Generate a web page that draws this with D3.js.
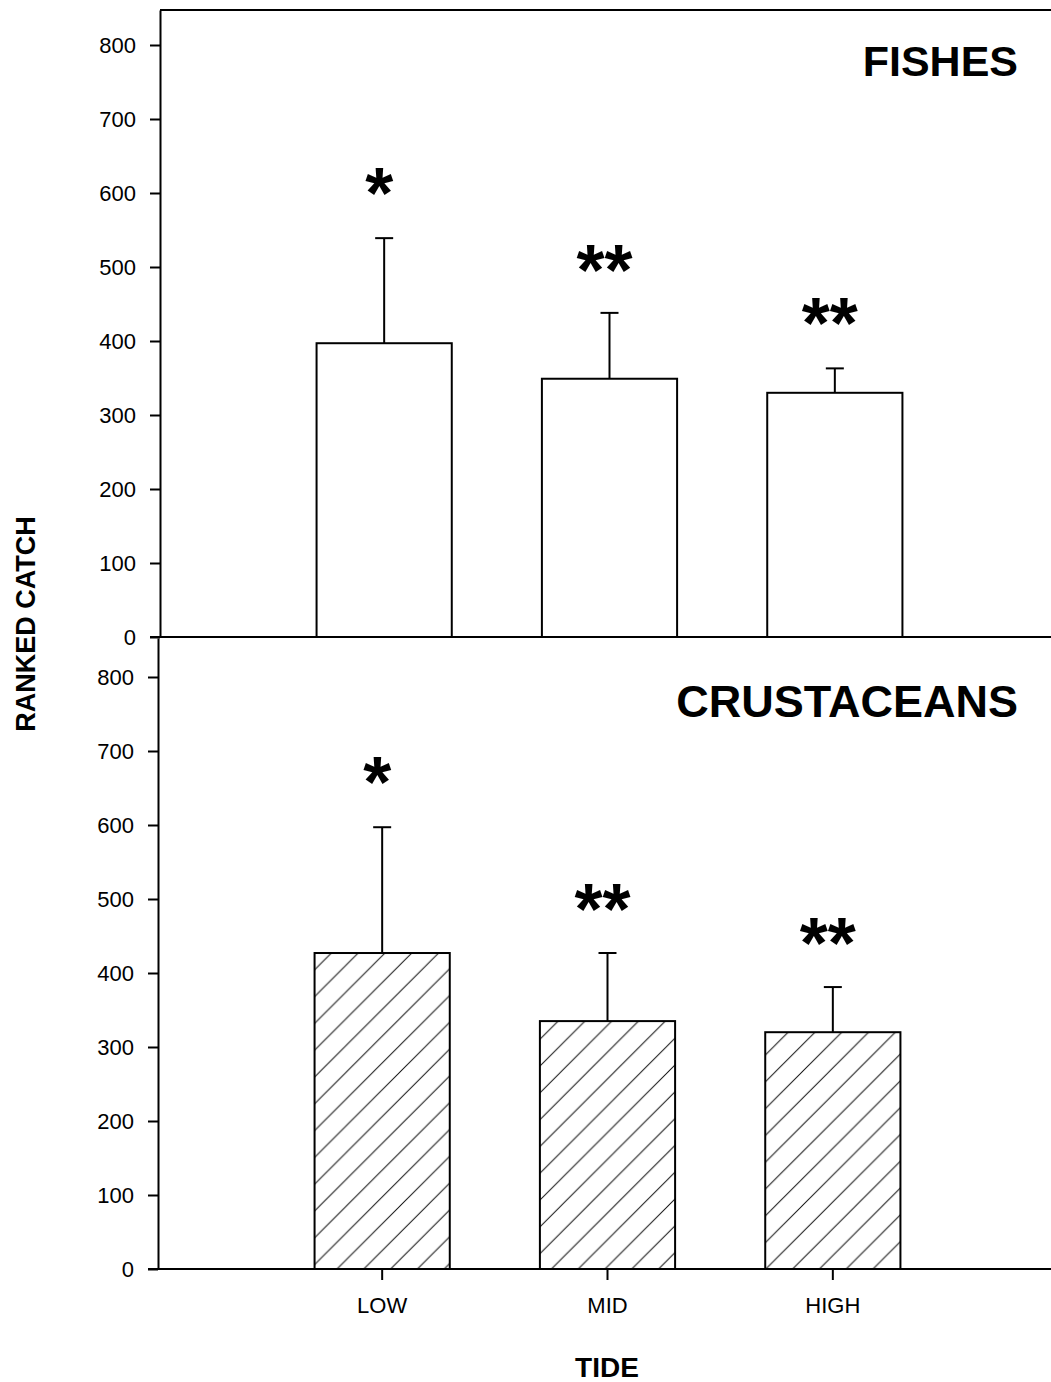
<!DOCTYPE html>
<html>
<head>
<meta charset="utf-8">
<script src="https://cdn.jsdelivr.net/npm/d3@7"></script>
<style>
  body { margin: 0; background: #fff; }
  svg { display: block; }
</style>
</head>
<body>
<svg id="chart" width="1051" height="1382"></svg>
<script>
// data
const tides = ['LOW', 'MID', 'HIGH']
const yTicks = [0, 100, 200, 300, 400, 500, 600, 700, 800]

const fishMean = [397, 349, 330]
const fishUpper = [539, 438, 363]
const fishSig = ['*', '**', '**']
const fishSigAt = [616, 512, 440]

const crustMean = [427, 335, 320]
const crustUpper = [597, 427, 381]
const crustSig = ['*', '**', '**']
const crustSigAt = [674, 503, 457]

const width = 1051
const height = 1382
const font = 'Liberation Sans, Arial, sans-serif'

const svg = d3.select('#chart')

svg.append('rect')
  .attr('width', width)
  .attr('height', height)
  .attr('fill', '#fff')

// hatch for crustaceans
svg.append('defs')
  .append('pattern')
  .attr('id', 'hatch')
  .attr('patternUnits', 'userSpaceOnUse')
  .attr('width', 26.8)
  .attr('height', 26.8)
  .call((p) => {
    p.append('rect').attr('width', 26.8).attr('height', 26.8).attr('fill', '#fff')
    p.append('path')
      .attr('d', 'M-2,28.8 L28.8,-2 M-6,6 L6,-6 M20.8,32.8 L32.8,20.8')
      .attr('stroke', '#111')
      .attr('stroke-width', 1)
  })

// x: band centres at ~384, 610, 835
const x = d3.scaleBand()
  .domain(tides)
  .range([271.5, 947.5])
  .paddingInner(0.4)
  .paddingOuter(0.2)

const panels = [
  { mean: fishMean, upper: fishUpper, sig: fishSig, sigAt: fishSigAt,
    title: 'FISHES', titleY: 76, top: 10, bottom: 637, max: 847.3, dx: 0, fill: '#fff', xTicks: false },
  { mean: crustMean, upper: crustUpper, sig: crustSig, sigAt: crustSigAt,
    title: 'CRUSTACEANS', titleY: 717, top: 638, bottom: 1269, max: 852.7, dx: -2, fill: 'url(#hatch)', xTicks: true },
]

panels.forEach((p) => {
  const left = 160
  const y = d3.scaleLinear().domain([0, p.max]).range([p.bottom, p.top])

  const g = svg.append('g').attr('transform', `translate(${p.dx},0)`)

  // bars
  g.append('g')
    .selectAll('rect')
    .data(tides)
    .join('rect')
    .attr('x', (d) => x(d))
    .attr('y', (d, i) => y(p.mean[i]))
    .attr('width', x.bandwidth())
    .attr('height', (d, i) => y(0) - y(p.mean[i]))
    .attr('fill', p.fill)
    .attr('stroke', '#000')
    .attr('stroke-width', 2)

  // upper error bars
  const err = g.append('g').attr('stroke', '#000').attr('stroke-width', 2)
  err.selectAll('line.v')
    .data(tides)
    .join('line')
    .attr('class', 'v')
    .attr('x1', (d) => x(d) + x.bandwidth() / 2)
    .attr('x2', (d) => x(d) + x.bandwidth() / 2)
    .attr('y1', (d, i) => y(p.mean[i]))
    .attr('y2', (d, i) => y(p.upper[i]))
  err.selectAll('line.c')
    .data(tides)
    .join('line')
    .attr('class', 'c')
    .attr('x1', (d) => x(d) + x.bandwidth() / 2 - 9)
    .attr('x2', (d) => x(d) + x.bandwidth() / 2 + 9)
    .attr('y1', (d, i) => y(p.upper[i]))
    .attr('y2', (d, i) => y(p.upper[i]))

  // significance stars
  g.append('g')
    .attr('font-family', font)
    .attr('font-weight', 'bold')
    .attr('font-size', 72)
    .attr('text-anchor', 'middle')
    .selectAll('text')
    .data(tides)
    .join('text')
    .attr('x', (d) => x(d) + x.bandwidth() / 2 - 5)
    .attr('y', (d, i) => y(p.sigAt[i]) + 37)
    .text((d, i) => p.sig[i])

  // frame lines
  g.append('line')
    .attr('x1', left - 10).attr('x2', width + 10)
    .attr('y1', p.bottom).attr('y2', p.bottom)
    .attr('stroke', '#000').attr('stroke-width', 2)
  if (!p.xTicks) {
    g.append('line')
      .attr('x1', left).attr('x2', width + 10)
      .attr('y1', p.top).attr('y2', p.top)
      .attr('stroke', '#000').attr('stroke-width', 2)
  }

  // y axis
  const yAxis = g.append('g')
    .attr('transform', `translate(${left},0)`)
    .call(d3.axisLeft(y).tickValues(yTicks).tickSize(10).tickSizeOuter(0).tickPadding(14))
  yAxis.select('.domain').attr('stroke-width', 2)
  yAxis.selectAll('.tick line').attr('stroke-width', 2)
  yAxis.selectAll('text')
    .attr('font-family', font)
    .attr('font-size', 22)
    .attr('fill', '#000')

  // x axis only under the lower panel
  if (p.xTicks) {
    const xAxis = g.append('g')
      .attr('transform', `translate(0,${p.bottom})`)
      .call(d3.axisBottom(x).tickSize(11).tickPadding(17))
    xAxis.select('.domain').remove()
    xAxis.selectAll('.tick line').attr('stroke-width', 2)
    xAxis.selectAll('text')
      .attr('font-family', font)
      .attr('font-size', 22)
      .attr('fill', '#000')
  }

  // panel title
  g.append('text')
    .attr('x', 1018 - p.dx)
    .attr('y', p.titleY)
    .attr('text-anchor', 'end')
    .attr('font-family', font)
    .attr('font-weight', 'bold')
    .attr('font-size', p.xTicks ? 45 : 43)
    .text(p.title)
})

// axis titles
svg.append('text')
  .attr('transform', 'translate(35,624) rotate(-90)')
  .attr('text-anchor', 'middle')
  .attr('font-family', font)
  .attr('font-weight', 'bold')
  .attr('font-size', 27)
  .text('RANKED CATCH')

svg.append('text')
  .attr('x', 607)
  .attr('y', 1377)
  .attr('text-anchor', 'middle')
  .attr('font-family', font)
  .attr('font-weight', 'bold')
  .attr('font-size', 28)
  .text('TIDE')
</script>
</body>
</html>
